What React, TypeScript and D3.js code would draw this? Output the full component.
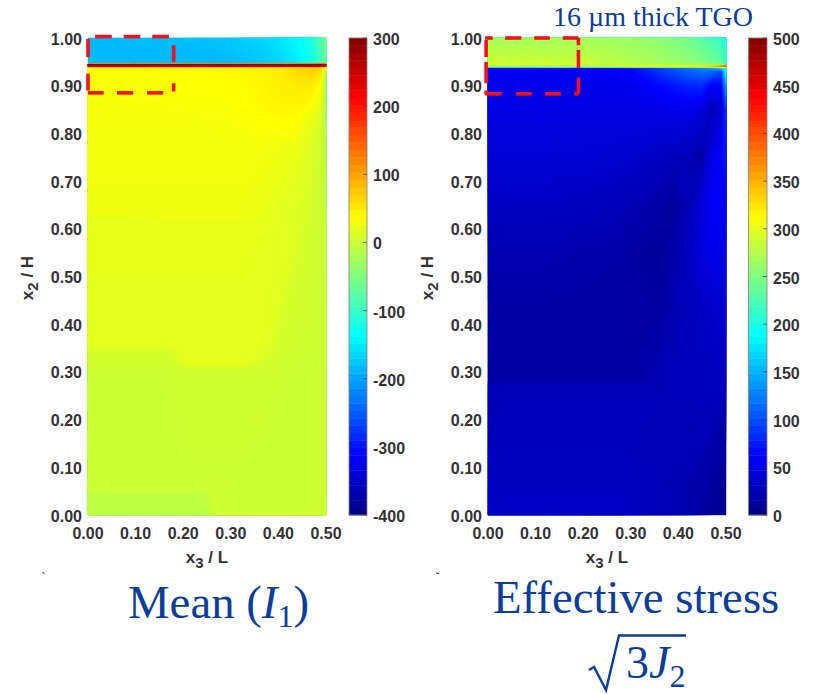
import React, { useMemo } from "react";
import * as d3 from "d3";

const meanX = [0, 0.1, 0.17, 0.21, 0.25, 0.26, 0.3, 0.33, 0.37, 0.41, 0.44, 0.47, 0.49, 0.5];
const meanY = [0, 0.045, 0.05, 0.305, 0.315, 0.34, 0.355, 0.5, 0.612, 0.625, 0.635, 0.7, 0.78, 0.81, 0.84, 0.88, 0.905, 0.92, 0.935, 0.9395, 0.942, 0.9442, 0.9455, 0.97, 1];
const meanValues = [
  [-8, -8, -8, -8, -8, 3, 3, 3, 3, 3, 3, 3, 3, 2],
  [-8, -8, -8, -8, -8, 3, 3, 3, 3, 3, 3, 3, 3, 2],
  [3, 3, 3, 3, 3, 3, 3, 3, 3, 3, 3, 3, 3, 2],
  [4, 4, 4, 6, 6, 6, 6, 6, 5, 4, 3, 3, 3, 1],
  [6, 6, 6, 19, 19, 19, 19, 19, 7, 5, 4, 3, 3, 1],
  [9, 9, 9, 19, 19, 19, 19, 19, 14, 6, 5, 4, 3, 1],
  [18, 18, 18, 19, 19, 19, 19, 19, 18, 7, 5, 4, 3, 1],
  [20, 20, 20, 20, 20, 20, 20, 20, 19, 16, 9, 5, 3, 0],
  [21, 21, 21, 21, 21, 21, 21, 21, 20, 17, 15, 7, 2, -2],
  [22, 22, 27, 27, 27, 27, 27, 27, 21, 17, 15, 8, 2, -3],
  [27, 27, 27, 27, 27, 27, 27, 27, 22, 17, 15, 8, 2, -3],
  [28, 28, 28, 28, 28, 28, 28, 28, 26, 21, 17, 12, 4, -6],
  [29, 29, 29, 29, 29, 29, 30, 30, 29, 28, 25, 15, 6, -12],
  [30, 30, 30, 30, 30, 31, 31, 33, 36, 37, 33, 20, 8, -16],
  [31, 31, 31, 32, 33, 33, 34, 36, 39, 42, 41, 27, 12, -22],
  [32, 33, 35, 36, 36, 36, 37, 39, 43, 46, 48, 44, 26, -30],
  [33, 34, 35, 36, 37, 37, 38, 40, 44, 47, 52, 52, 36, -35],
  [34, 35, 36, 37, 38, 38, 40, 42, 44, 48, 58, 62, 48, -35],
  [36, 36, 37, 38, 39, 40, 42, 44, 46, 50, 62, 70, 62, 10],
  [55, 55, 55, 55, 55, 55, 56, 56, 58, 60, 68, 78, 75, 50],
  [282, 282, 282, 282, 282, 282, 282, 282, 282, 282, 282, 282, 282, 260],
  [282, 282, 282, 282, 282, 282, 282, 282, 282, 282, 282, 282, 282, 260],
  [-185, -185, -185, -185, -185, -185, -185, -182, -175, -165, -150, -125, -90, -70],
  [-185, -185, -185, -185, -183, -183, -180, -175, -170, -158, -145, -120, -85, -65],
  [-185, -183, -182, -180, -180, -180, -175, -170, -165, -152, -140, -115, -80, -55],
];

const effX = [0, 0.1, 0.2, 0.28, 0.3, 0.33, 0.36, 0.39, 0.42, 0.45, 0.47, 0.49, 0.5];
const effY = [0, 0.05, 0.06, 0.15, 0.25, 0.27, 0.285, 0.45, 0.55, 0.65, 0.75, 0.85, 0.9, 0.93, 0.9375, 0.941, 0.9435, 1];
const effValues = [
  [35, 35, 36, 36, 34, 30, 28, 26, 24, 16, 12, 11, 10],
  [35, 35, 35, 34, 33, 30, 28, 26, 24, 18, 14, 12, 11],
  [32, 32, 32, 32, 31, 29, 28, 26, 24, 19, 15, 13, 12],
  [30, 30, 30, 30, 29, 28, 27, 27, 27, 27, 22, 18, 16],
  [28, 28, 28, 28, 28, 28, 28, 28, 28, 30, 30, 30, 30],
  [27, 27, 27, 27, 27, 27, 27, 28, 28, 30, 31, 31, 32],
  [18, 18, 18, 18, 18, 22, 27, 28, 28, 30, 31, 32, 33],
  [20, 20, 19, 18, 17, 16, 16, 24, 30, 35, 38, 40, 42],
  [24, 24, 22, 20, 18, 15, 12, 20, 32, 46, 52, 50, 48],
  [34, 34, 32, 29, 26, 24, 20, 14, 26, 45, 58, 60, 62],
  [42, 42, 41, 39, 38, 36, 33, 30, 26, 20, 50, 62, 76],
  [48, 48, 48, 48, 48, 49, 50, 52, 52, 46, 28, 40, 90],
  [52, 52, 52, 53, 55, 60, 66, 72, 80, 82, 60, 62, 140],
  [56, 56, 57, 61, 64, 74, 88, 100, 110, 120, 115, 100, 190],
  [58, 58, 60, 66, 70, 80, 95, 108, 118, 128, 140, 165, 220],
  [285, 285, 292, 305, 310, 315, 318, 322, 326, 330, 340, 370, 395],
  [290, 288, 285, 278, 275, 272, 268, 264, 260, 254, 247, 238, 218],
  [268, 268, 268, 265, 263, 260, 256, 250, 242, 230, 220, 212, 205],
];

const axisTicksX = [0, 0.1, 0.2, 0.3, 0.4, 0.5];
const axisTicksY = [0, 0.1, 0.2, 0.3, 0.4, 0.5, 0.6, 0.7, 0.8, 0.9, 1];
const meanBarTicks = [-400, -300, -200, -100, 0, 100, 200, 300];
const effBarTicks = [0, 50, 100, 150, 200, 250, 300, 350, 400, 450, 500];

const leftBox = { x0: 0, x1: 0.18, y0: 0.885, y1: 1.003 };
const rightBox = { x0: -0.004, x1: 0.19, y0: 0.883, y1: 1 };
const leftDashes = {
  top: [[0.015, 0.05], [0.075, 0.11], [0.135, 0.17]],
  bottom: [[0, 0.033], [0.061, 0.095], [0.124, 0.158]],
  left: [[0.96, 0.998], [0.89, 0.925]],
  right: [[0.95, 0.985], [0.888, 0.905]],
};
const rightDashes = {
  top: [[-0.006, 0.01], [0.036, 0.07], [0.097, 0.13], [0.157, 0.19]],
  bottom: [[-0.006, 0.029], [0.059, 0.092], [0.12, 0.153], [0.181, 0.19]],
  left: [[0.96, 0.996], [0.905, 0.95], [0.882, 0.89]],
  right: [[0.985, 1], [0.937, 0.975], [0.883, 0.917]],
};

const jet = d3
  .scaleLinear<string>()
  .domain([0, 0.125, 0.375, 0.625, 0.875, 1])
  .range(["#000080", "#0000ff", "#00ffff", "#ffff00", "#ff0000", "#800000"]);

const sx0 = d3.scaleLinear().domain([0, 0.5]).range([88, 326]);
const sx1 = d3.scaleLinear().domain([0, 0.5]).range([488, 726]);
const sy = d3.scaleLinear().domain([0, 1]).range([515, 38]);

const SANS = "'Liberation Sans', Arial, sans-serif";
const SERIF = "'Liberation Serif', 'Times New Roman', serif";
const INK = "#333333";
const BLUE = "#0b3d9c";

function Field({ xs, ys, rows, sx, min, max, step, lo, hi }: any) {
  const paths = useMemo(() => {
    const nx = xs.length;
    const ny = ys.length;
    const flat: number[] = rows.flat();
    const color = d3.scaleLinear().domain([lo, hi]).range([0, 1]).clamp(true);
    const mapX = d3
      .scaleLinear()
      .domain([0, ...xs.map((_: number, i: number) => i + 0.5), nx])
      .range([sx(xs[0]), ...xs.map((v: number) => sx(v)), sx(xs[nx - 1])]);
    const mapY = d3
      .scaleLinear()
      .domain([0, ...ys.map((_: number, i: number) => i + 0.5), ny])
      .range([sy(ys[0]), ...ys.map((v: number) => sy(v)), sy(ys[ny - 1])]);
    const path = d3.geoPath(
      d3.geoTransform({
        point(this: any, x: number, y: number) {
          this.stream.point(mapX(x), mapY(y));
        },
      })
    );
    const gen = d3.contours().size([nx, ny]).thresholds(d3.range(min, max, step));
    return gen(flat).map((c: any) => ({
      d: path(c) as string,
      fill: jet(color(c.value + step / 2)),
    }));
  }, []);
  return (
    <g>
      {paths.map((p: any, i: number) => (
        <path key={i} d={p.d} fill={p.fill} stroke={p.fill} strokeWidth={0.2} />
      ))}
    </g>
  );
}

function ColorBar({ x, width, lo, hi, ticks }: any) {
  const scale = d3.scaleLinear().domain([lo, hi]).range([515, 38]);
  const levels = d3.range(64);
  const bandH = (515 - 38) / 64;
  return (
    <g>
      {levels.map((i) => (
        <rect key={i} x={x} y={515 - (i + 1) * bandH} width={width} height={bandH + 0.4} fill={jet((i + 0.5) / 64)} />
      ))}
      <rect x={x} y={38} width={width} height={477} fill="none" stroke="#8a7d78" strokeWidth={0.8} />
      {ticks.map((t: number) => (
        <g key={t}>
          <line x1={x + width - 4} x2={x + width} y1={scale(t)} y2={scale(t)} stroke="#5a3030" strokeWidth={1} opacity={0.7} />
          <text x={x + width + 6} y={scale(t) + 7} fontFamily={SANS} fontWeight="bold" fontSize={16} fill={INK}>
            {t}
          </text>
        </g>
      ))}
    </g>
  );
}

function Axes({ sx, titleX, titleY }: any) {
  return (
    <g fontFamily={SANS} fontWeight="bold" fontSize={16} fill={INK}>
      {axisTicksY.map((t) => (
        <text key={t} x={sx(0) - 6} y={sy(t) + 6.5} textAnchor="end">
          {t.toFixed(2)}
        </text>
      ))}
      {axisTicksX.map((t) => (
        <text key={t} x={sx(t)} y={539} textAnchor="middle">
          {t.toFixed(2)}
        </text>
      ))}
      <text x={titleX} y={563} textAnchor="middle" fontSize={17}>
        x<tspan dy={5} fontSize={15}>3</tspan>
        <tspan dy={-5}> / L</tspan>
      </text>
      <text transform={`translate(${titleY},278) rotate(-90)`} textAnchor="middle" fontSize={17}>
        x<tspan dy={5} fontSize={15}>2</tspan>
        <tspan dy={-5}> / H</tspan>
      </text>
    </g>
  );
}

function DashBox({ box, dashes, sx }: any) {
  const segs: any[] = [];
  dashes.top.forEach(([a, b]: number[]) => segs.push([sx(a), sy(box.y1), sx(b), sy(box.y1)]));
  dashes.bottom.forEach(([a, b]: number[]) => segs.push([sx(a), sy(box.y0), sx(b), sy(box.y0)]));
  dashes.left.forEach(([a, b]: number[]) => segs.push([sx(box.x0), sy(a), sx(box.x0), sy(b)]));
  dashes.right.forEach(([a, b]: number[]) => segs.push([sx(box.x1), sy(a), sx(box.x1), sy(b)]));
  return (
    <g stroke="#f5101c" strokeWidth={3.6}>
      {segs.map((s, i) => (
        <line key={i} x1={s[0]} y1={s[1]} x2={s[2]} y2={s[3]} />
      ))}
    </g>
  );
}

export default function App() {
  return (
    <svg
      width={819}
      height={694}
      viewBox="0 0 819 694"
      style={{ position: "absolute", left: 0, top: 0, background: "#fff" }}
    >
      <defs>
        <filter id="soft" x="-2%" y="-2%" width="104%" height="104%" colorInterpolationFilters="sRGB">
          <feGaussianBlur stdDeviation={0.5} />
        </filter>
      </defs>
      <g filter="url(#soft)">
        <Field xs={meanX} ys={meanY} rows={meanValues} sx={sx0} min={-190} max={286} step={2} lo={-400} hi={300} />
        <Field xs={effX} ys={effY} rows={effValues} sx={sx1} min={8} max={396} step={2} lo={0} hi={500} />
      </g>
      <ColorBar x={349} width={18} lo={-400} hi={300} ticks={meanBarTicks} />
      <ColorBar x={748.5} width={18.5} lo={0} hi={500} ticks={effBarTicks} />

      <Axes sx={sx0} titleX={207} titleY={33} />
      <Axes sx={sx1} titleX={607} titleY={433} />

      <DashBox box={leftBox} dashes={leftDashes} sx={sx0} />
      <DashBox box={rightBox} dashes={rightDashes} sx={sx1} />

      <path d="M42.5,572.5 L44.5,573.5 M436,573 L439,573.5" stroke="#333" strokeWidth={1} fill="none" />

      <g fontFamily={SERIF} fill={BLUE}>
        <text x={553} y={26} fontSize={28}>16 µm thick TGO</text>
        <text x={128} y={618} fontSize={46.8}>
          Mean (<tspan fontStyle="italic">I</tspan>
          <tspan dy={9} fontSize={32}>1</tspan>
          <tspan dy={-9}>)</tspan>
        </text>
        <text x={493} y={613} fontSize={46.8}>Effective stress</text>
        <path d="M589,670 L594,667 L606,690 L619,635.5 L686,635.5" fill="none" stroke={BLUE} strokeWidth={2.4} />
        <text x={626} y={678} fontSize={46}>
          3<tspan fontStyle="italic">J</tspan>
          <tspan dy={9} fontSize={32}>2</tspan>
        </text>
      </g>
    </svg>
  );
}
